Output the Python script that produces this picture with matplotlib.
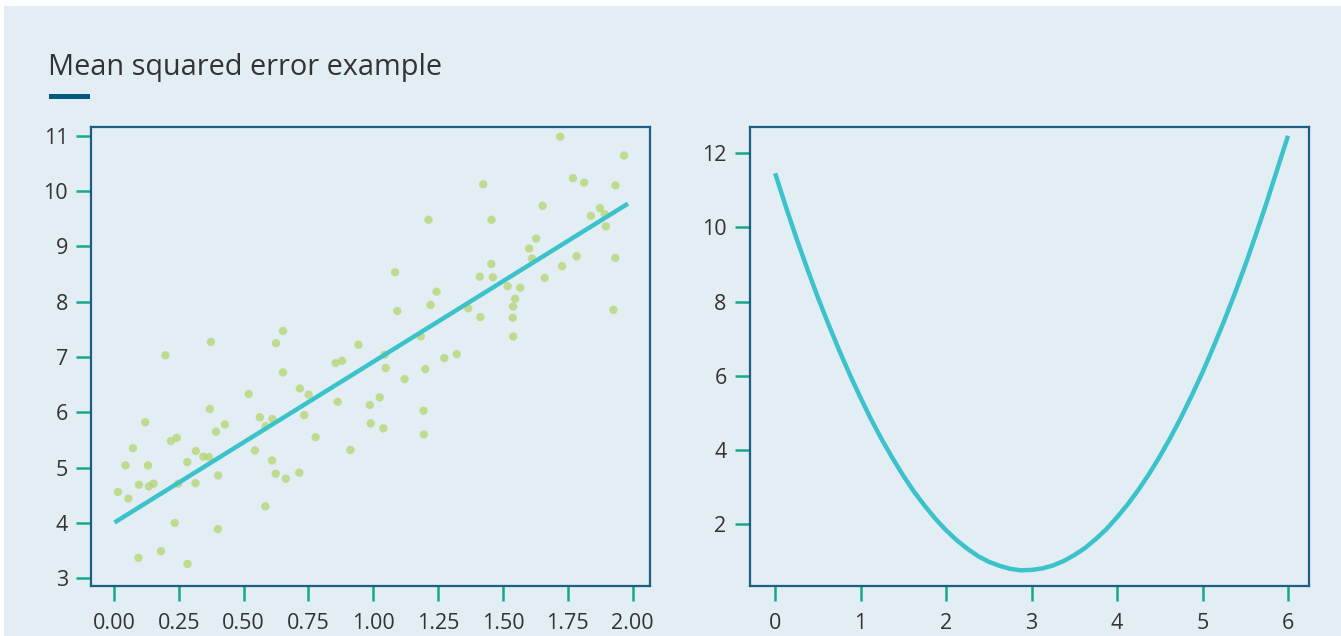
import matplotlib.pyplot as plt
from matplotlib.patches import Rectangle

# ======== Data ========
scatter_x = [0.016, 0.056, 0.045, 0.074, 0.121, 0.097, 0.132, 0.135, 0.153, 0.095,
             0.182, 0.199, 0.220, 0.243, 0.248, 0.235, 0.284, 0.283, 0.316, 0.315,
             0.345, 0.367, 0.370, 0.374, 0.394, 0.428, 0.402, 0.401, 0.520, 0.544,
             0.563, 0.585, 0.611, 0.610, 0.624, 0.584, 0.663, 0.625, 0.652, 0.652,
             0.717, 0.751, 0.734, 0.778, 0.715, 0.855, 0.880, 0.863, 0.912, 0.943,
             0.987, 0.990, 1.025, 1.039, 1.044, 1.048, 1.084, 1.093, 1.121, 1.183,
             1.194, 1.195, 1.201, 1.213, 1.221, 1.244, 1.274, 1.322, 1.366, 1.413,
             1.411, 1.424, 1.456, 1.455, 1.461, 1.518, 1.539, 1.547, 1.538, 1.540,
             1.567, 1.601, 1.612, 1.628, 1.653, 1.661, 1.721, 1.728, 1.770, 1.784,
             1.813, 1.839, 1.874, 1.892, 1.897, 1.926, 1.933, 1.934, 1.967]
scatter_y = [4.56, 4.44, 5.04, 5.35, 5.82, 4.69, 5.04, 4.66, 4.71, 3.37,
             3.49, 7.03, 5.48, 5.54, 4.71, 4.00, 3.26, 5.10, 5.30, 4.72,
             5.20, 5.19, 6.06, 7.27, 5.65, 5.78, 4.86, 3.89, 6.33, 5.31,
             5.91, 5.75, 5.88, 5.13, 4.89, 4.30, 4.80, 7.25, 7.47, 6.72,
             6.43, 6.32, 5.95, 5.55, 4.91, 6.89, 6.93, 6.19, 5.32, 7.22,
             6.13, 5.80, 6.27, 5.71, 7.04, 6.80, 8.53, 7.83, 6.60, 7.37,
             6.03, 5.60, 6.78, 9.48, 7.94, 8.18, 6.98, 7.05, 7.88, 7.72,
             8.45, 10.12, 9.48, 8.68, 8.44, 8.28, 7.91, 8.05, 7.71, 7.37,
             8.25, 8.96, 8.78, 9.14, 9.73, 8.43, 10.98, 8.64, 10.23, 8.82,
             10.15, 9.55, 9.69, 9.58, 9.36, 7.85, 8.79, 10.10, 10.64]

fit_x = [0.01, 1.975]
fit_y = [4.03, 9.75]

mse_x = [0, 0.125, 0.25, 0.375, 0.5, 0.625, 0.75, 0.875, 1, 1.125, 1.25, 1.375,
         1.5, 1.625, 1.75, 1.875, 2, 2.125, 2.25, 2.375, 2.5, 2.625, 2.75, 2.875,
         3, 3.125, 3.25, 3.375, 3.5, 3.625, 3.75, 3.875, 4, 4.125, 4.25, 4.375,
         4.5, 4.625, 4.75, 4.875, 5, 5.125, 5.25, 5.375, 5.5, 5.625, 5.75, 5.875, 6]
mse_y = [11.46, 10.56, 9.70, 8.89, 8.11, 7.38, 6.68, 6.02, 5.40, 4.81, 4.27, 3.77,
         3.30, 2.87, 2.49, 2.14, 1.83, 1.56, 1.33, 1.13, 0.98, 0.87, 0.79, 0.75,
         0.76, 0.80, 0.88, 1.00, 1.16, 1.35, 1.59, 1.86, 2.18, 2.53, 2.92, 3.35,
         3.82, 4.33, 4.88, 5.47, 6.09, 6.76, 7.46, 8.20, 8.98, 9.81, 10.67, 11.57, 12.47]

left_xticks = [0.0, 0.25, 0.5, 0.75, 1.0, 1.25, 1.5, 1.75, 2.0]
left_yticks = [3, 4, 5, 6, 7, 8, 9, 10, 11]
right_xticks = [0, 1, 2, 3, 4, 5, 6]
right_yticks = [2, 4, 6, 8, 10, 12]

# ======== Style ========
bg = '#e2edf4'
spine_col = '#1d5f82'
tick_col = '#14a98a'
text_col = '#333333'
line_col = '#3bc2ca'
dot_col = '#b3d36a'

plt.rcParams['font.family'] = ['Open Sans', 'DejaVu Sans']

W, H = 1341, 636
fig = plt.figure(figsize=(W / 100, H / 100), dpi=100, facecolor='white')
fig.patches.append(Rectangle((4 / W, 0), 1, (H - 6) / H, transform=fig.transFigure,
                             facecolor=bg, edgecolor='none', zorder=-10))

fig.text(48 / W, 1 - 75 / H, "Mean squared error example", fontsize=20.8,
         color=text_col, ha='left', va='baseline')
fig.patches.append(Rectangle((48.5 / W, 1 - 98.7 / H), 41.5 / W, 4.4 / H,
                             transform=fig.transFigure, facecolor='#005a80',
                             edgecolor='none'))

ax_w = 559 / W
ax_h = (585.5 - 127.3) / H
ax_b = 1 - 585.5 / H
ax1 = fig.add_axes([91 / W, ax_b, ax_w, ax_h])
ax2 = fig.add_axes([749.5 / W, ax_b, ax_w, ax_h])

for ax in (ax1, ax2):
    ax.set_facecolor(bg)
    for sp in ax.spines.values():
        sp.set_color(spine_col)
        sp.set_linewidth(1.6)
    ax.tick_params(axis='both', colors=tick_col, labelcolor=text_col,
                   length=10.5, width=1.8, labelsize=15.5)
    ax.tick_params(axis='y', pad=6)
    ax.tick_params(axis='x', pad=9)

# left: data with fitted line
ax1.scatter(scatter_x, scatter_y, s=36, color=dot_col, alpha=0.72,
            edgecolors='none', zorder=2)
ax1.plot(fit_x, fit_y, color=line_col, linewidth=3.2, zorder=3)
ax1.set_xticks(left_xticks)
ax1.set_xticklabels([f"{t:.2f}" for t in left_xticks])
ax1.set_yticks(left_yticks)
ax1.set_xlim(-0.088, 2.067)
ax1.set_ylim(2.87, 11.15)

# right: MSE curve
ax2.plot(mse_x, mse_y, color=line_col, linewidth=3.2, solid_capstyle='butt',
         solid_joinstyle='round')
ax2.set_xticks(right_xticks)
ax2.set_yticks(right_yticks)
ax2.set_xlim(-0.30, 6.24)
ax2.set_ylim(0.34, 12.70)

fig.savefig("out.png", dpi=100, facecolor=fig.get_facecolor())
